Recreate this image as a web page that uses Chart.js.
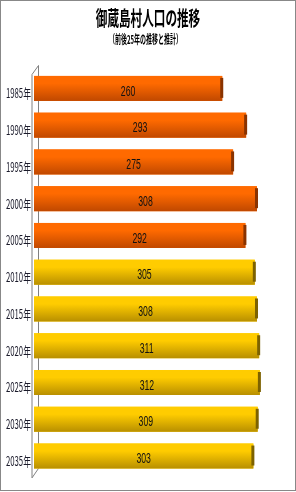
<!DOCTYPE html>
<html>
<head>
<meta charset="utf-8">
<script src="https://cdn.jsdelivr.net/npm/chart.js@4"></script>
<style>
  html, body { margin: 0; padding: 0; background: #fff; }
  #box { position: relative; width: 296px; height: 491px; box-sizing: border-box; border: 1px solid #888; }
  canvas { position: absolute; left: -1px; top: -1px; }
</style>
</head>
<body>
<div id="box"><canvas id="popChart" width="296" height="492"></canvas></div>
<script>
const titleText = "御蔵島村人口の推移";
const subtitleText = "（前後25年の推移と推計）";
const years = ["1985年", "1990年", "1995年", "2000年", "2005年", "2010年", "2015年", "2020年", "2025年", "2030年", "2035年"];
const population = [260, 293, 275, 308, 292, 305, 308, 311, 312, 309, 303];
const estimated = [false, false, false, false, false, true, true, true, true, true, true];

const palette = {
  past: { top: "#ff6a00", bottom: "#c04800", cap: "#8a3300" },
  est: { top: "#ffcc00", bottom: "#b88f00", cap: "#7d6200" }
};

function squeezed(ctx, text, x, y, sx, align) {
  ctx.save();
  ctx.translate(x, y);
  ctx.scale(sx, 1);
  ctx.textAlign = align;
  ctx.fillText(text, 0, 0);
  ctx.restore();
}

const look = {
  id: "look",
  beforeDatasetsDraw(chart) {
    const ctx = chart.ctx;
    const a = chart.chartArea;
    // 3D wall on the left
    ctx.save();
    ctx.strokeStyle = "#808080";
    ctx.lineWidth = 1;
    ctx.beginPath();
    ctx.moveTo(a.left - 2, a.bottom + 3.5);
    ctx.lineTo(a.left - 2, a.top + 4.5);
    ctx.lineTo(a.left + 4.5, a.top - 4.5);
    ctx.lineTo(a.left + 4.5, a.bottom - 6);
    ctx.lineTo(a.left - 2, a.bottom + 3.5);
    ctx.stroke();
    ctx.restore();
  },
  afterDatasetsDraw(chart) {
    const ctx = chart.ctx;
    const meta = chart.getDatasetMeta(0);
    meta.data.forEach((bar, i) => {
      const p = estimated[i] ? palette.est : palette.past;
      const top = bar.y - bar.height / 2;
      const bot = bar.y + bar.height / 2;
      const g = ctx.createLinearGradient(0, top, 0, bot);
      g.addColorStop(0, p.top);
      g.addColorStop(0.3, p.top);
      g.addColorStop(1, p.bottom);
      ctx.fillStyle = g;
      ctx.fillRect(bar.base, top, bar.x - bar.base, bot - top);
      ctx.fillStyle = p.cap;
      ctx.fillRect(bar.x - 2, top + 2, 3, bot - top - 5);

      ctx.fillStyle = "#111";
      ctx.font = "15px 'Liberation Sans Narrow', 'Liberation Sans', sans-serif";
      ctx.textBaseline = "middle";
      squeezed(ctx, String(population[i]), (bar.base + bar.x) / 2, bar.y + 3, 0.58, "center");

      ctx.fillStyle = "#1a1a2a";
      ctx.font = "13px 'Liberation Sans Narrow', 'Noto Sans CJK JP', sans-serif";
      squeezed(ctx, years[i], 31, bar.y + 5, 0.6, "right");
    });

    ctx.fillStyle = "#000";
    ctx.textBaseline = "alphabetic";
    ctx.font = "bold 20px 'Noto Sans CJK JP', sans-serif";
    squeezed(ctx, titleText, 148, 26, 0.58, "center");
    ctx.font = "bold 12px 'Noto Sans CJK JP', sans-serif";
    squeezed(ctx, subtitleText, 145.5, 44, 0.5, "center");
  }
};

new Chart(document.getElementById("popChart").getContext("2d"), {
  type: "bar",
  data: {
    labels: years,
    datasets: [{
      data: population,
      backgroundColor: population.map((v, i) => estimated[i] ? palette.est.top : palette.past.top),
      borderWidth: 0,
      barPercentage: 0.68,
      categoryPercentage: 1
    }]
  },
  options: {
    indexAxis: "y",
    responsive: false,
    animation: false,
    devicePixelRatio: 1,
    layout: { padding: { top: 70, bottom: 17.6, left: 34, right: 8.6 } },
    scales: {
      x: { display: false, min: 0, max: 350 },
      y: { display: false }
    },
    plugins: {
      legend: { display: false },
      tooltip: { enabled: false }
    }
  },
  plugins: [look]
});
</script>
</body>
</html>
